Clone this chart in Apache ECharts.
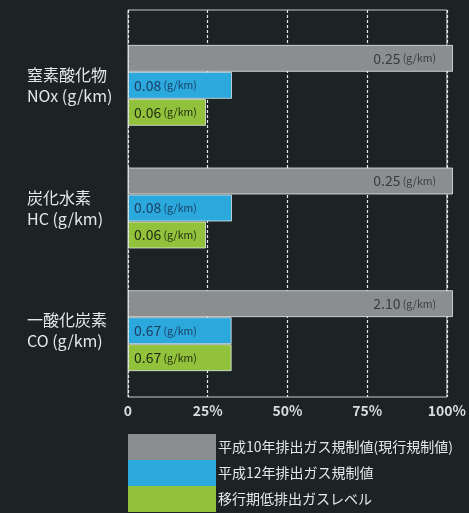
<!DOCTYPE html>
<html>
<head>
<meta charset="utf-8">
<script src="https://cdn.jsdelivr.net/npm/echarts@6/dist/echarts.min.js"></script>
<style>
html,body{margin:0;padding:0;background:#1b2325;}
#c{width:469px;height:513px;}
</style>
</head>
<body>
<div id="c"></div>
<script>
// Data
const categories = ['窒素酸化物\nNOx (g/km)', '炭化水素\nHC (g/km)', '一酸化炭素\nCO (g/km)'];
const seriesNames = ['平成10年排出ガス規制値(現行規制値)', '平成12年排出ガス規制値', '移行期低排出ガスレベル'];
const h10Values = [0.25, 0.25, 2.10];   // g/km (reference = 100%)
const h12Values = [0.08, 0.08, 0.67];
const lowValues = [0.06, 0.06, 0.67];
const tickLabels = ['0', '25%', '50%', '75%', '100%'];

const colors = ['#8b8e8e', '#2ba8dc', '#92c23c'];
const labelColors = ['#3a3d3d', '#1c3f66', '#1e2a10'];
const allValues = [h10Values, h12Values, lowValues];

function pct(vals) {
  return vals.map((v, i) => ({ value: v / h10Values[i] * 100, raw: v }));
}

const FONT = '"Noto Sans CJK JP", "Noto Sans", sans-serif';

const series = allValues.map((vals, s) => ({
  name: seriesNames[s],
  type: 'bar',
  xAxisIndex: 1,
  yAxisIndex: 1,
  barWidth: 27,
  barGap: '0%',
  data: pct(vals),
  itemStyle: { color: colors[s], borderColor: 'rgba(235,240,240,0.75)', borderWidth: 1 },
  label: {
    show: true,
    position: s === 0 ? 'insideRight' : 'insideLeft',
    distance: s === 0 ? 17 : 6,
    formatter: p => '{v|' + p.data.raw.toFixed(2) + '}{u| (g/km)}',
    rich: {
      v: { fontSize: 14, color: labelColors[s], fontFamily: FONT },
      u: { fontSize: 10.5, color: labelColors[s], fontFamily: FONT }
    }
  }
}));

const chart = echarts.init(document.getElementById('c'));
chart.setOption({
  backgroundColor: '#1b2325',
  animation: false,
  grid: [
    { left: 128, top: 10, width: 325, height: 387, show: true, borderColor: '#c5caca', borderWidth: 1, backgroundColor: 'transparent' },
    { left: 128, top: 24, width: 325, height: 368 }
  ],
  xAxis: [
    {
      gridIndex: 0, type: 'value', min: 0, max: 100, interval: 25,
      axisLine: { show: false }, axisTick: { show: false },
      splitLine: { show: true, lineStyle: { color: '#e8ecec', type: [3, 2], width: 1.2 } },
      axisLabel: {
        color: '#d8dcdc', fontSize: 14, fontWeight: 'bold', margin: 7, fontFamily: FONT,
        formatter: (v) => tickLabels[Math.round(v / 25)]
      }
    },
    { gridIndex: 1, type: 'value', min: 0, max: 100, show: false }
  ],
  yAxis: [
    { gridIndex: 0, type: 'value', show: false },
    {
      gridIndex: 1, type: 'category', data: categories, inverse: true,
      axisLine: { show: false }, axisTick: { show: false },
      axisLabel: {
        align: 'left', margin: 101, color: '#e4e8e8', fontSize: 16, lineHeight: 21,
        fontFamily: FONT, padding: [0, 0, 14, 0]
      }
    }
  ],
  legend: {
    orient: 'vertical', left: 128, top: 434, padding: 0, itemWidth: 88, itemHeight: 26, itemGap: 0,
    icon: 'rect',
    itemStyle: { borderWidth: 0 },
    textStyle: { color: '#e4e8e8', fontSize: 14, fontFamily: FONT, padding: [0, 0, 0, -3] },
    data: seriesNames
  },
  series: series
});
</script>
</body>
</html>
